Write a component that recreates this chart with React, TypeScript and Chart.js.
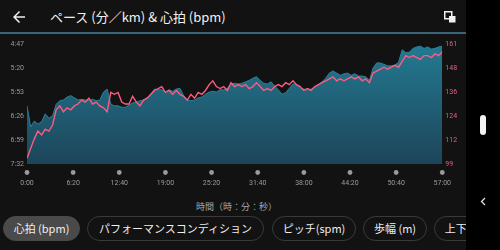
import React, { useEffect, useRef } from 'react';
import { Chart, registerables } from 'chart.js';

Chart.register(...registerables);

const SAMPLE_SEC = 30;

const paceSec = [
  372, 401, 393, 397, 394, 383, 389, 386, 370, 365,
  364, 360, 358, 361, 364, 363, 364, 365, 363, 365,
  364, 353, 349, 370, 372, 372, 374, 374, 371, 368,
  367, 365, 364, 361, 356, 349, 350, 350, 353, 350,
  352, 349, 348, 358, 364, 365, 364, 361, 360, 356,
  353, 352, 353, 350, 350, 348, 342, 341, 342, 341,
  339, 337, 334, 332, 337, 341, 342, 339, 345, 350,
  356, 354, 348, 342, 343, 348, 349, 350, 349, 346,
  343, 339, 334, 327, 324, 327, 330, 328, 327, 330,
  328, 331, 331, 332, 337, 320, 313, 313, 315, 317,
  317, 316, 312, 295, 299, 298, 293, 291, 290, 293,
  291, 294, 293, 291, 290,
];

const heartRate = [
  102, 107, 112, 116, 114, 117, 116, 119, 127, 129,
  126, 128, 127, 129, 130, 132, 131, 133, 130, 131,
  129, 128, 126, 136, 135, 136, 131, 130, 130, 134,
  131, 129, 132, 133, 135, 137, 138, 139, 136, 137,
  135, 137, 135, 134, 132, 135, 133, 136, 135, 137,
  140, 142, 139, 138, 139, 137, 141, 139, 140, 139,
  140, 138, 139, 141, 139, 137, 138, 137, 139, 140,
  139, 141, 140, 142, 140, 139, 137, 138, 137, 139,
  140, 141, 142, 143, 144, 142, 143, 142, 143, 144,
  143, 144, 142, 143, 141, 146, 147, 148, 149, 148,
  149, 150, 149, 152, 155, 154, 155, 154, 153, 155,
  155, 154, 156, 155, 157,
];

const xTickValues = [0, 380, 760, 1140, 1520, 1900, 2280, 2660, 3040, 3420];
const xTickLabels = ['0:00', '6:20', '12:40', '19:00', '25:20', '31:40', '38:00', '44:20', '50:40', '57:00'];
const paceTickValues = [287, 320, 353, 386, 419, 452];
const paceTickLabels = ['4:47', '5:20', '5:53', '6:26', '6:59', '7:32'];
const hrTickValues = [99, 111.4, 123.8, 136.2, 148.6, 161];
const hrTickLabels = ['99', '112', '124', '136', '148', '161'];

const titleText = 'ペース (分／km) & 心拍 (bpm)';
const xAxisTitle = '時間（時：分：秒）';
const chipLabels = ['心拍 (bpm)', 'パフォーマンスコンディション', 'ピッチ(spm)', '歩幅 (m)', '上下動 (cm)'];

const FONT = '"Noto Sans CJK JP", "Noto Sans", Roboto, sans-serif';
const chipBoxes = [
  { left: 3, width: 77 },
  { left: 87, width: 177 },
  { left: 272, width: 84 },
  { left: 363, width: 64 },
  { left: 434, width: 80 },
];

const tickDots = {
  id: 'tickDots',
  afterDraw(chart: any) {
    const { ctx, chartArea, scales } = chart;
    ctx.save();
    ctx.fillStyle = '#9a9a9a';
    xTickValues.forEach((v) => {
      const x = scales.x.getPixelForValue(v);
      ctx.beginPath();
      ctx.arc(x, chartArea.bottom + 8.5, 2.4, 0, Math.PI * 2);
      ctx.fill();
    });
    ctx.restore();
  },
};

function ChartCanvas() {
  const ref = useRef<HTMLCanvasElement | null>(null);
  useEffect(() => {
    if (!ref.current) return;
    const paceData = paceSec.map((v, i) => ({ x: i * SAMPLE_SEC, y: v }));
    const hrData = heartRate.map((v, i) => ({ x: i * SAMPLE_SEC, y: v }));
    const chart = new Chart(ref.current, {
      type: 'line',
      data: {
        datasets: [
          {
            label: 'HR',
            data: hrData,
            yAxisID: 'hr',
            borderColor: '#ff5a80',
            borderWidth: 1.4,
            pointRadius: 0,
            fill: false,
            order: 0,
            tension: 0,
          },
          {
            label: 'Pace',
            data: paceData,
            yAxisID: 'pace',
            borderColor: '#2a8099',
            borderWidth: 1,
            pointRadius: 0,
            fill: 'start',
            order: 1,
            tension: 0,
            backgroundColor: (c: any) => {
              const { chart: ch } = c;
              const area = ch.chartArea;
              if (!area) return '#1f5f75';
              const g = ch.ctx.createLinearGradient(0, area.top, 0, area.bottom);
              g.addColorStop(0, '#237a92');
              g.addColorStop(1, '#1d455a');
              return g;
            },
          },
        ],
      },
      options: {
        animation: false,
        responsive: false,
        maintainAspectRatio: false,
        devicePixelRatio: 1,
        layout: { padding: { top: 10, left: 0, right: 0, bottom: 0 } },
        plugins: { legend: { display: false }, tooltip: { enabled: false } },
        scales: {
          x: {
            type: 'linear',
            min: 0,
            max: 3420,
            grid: { display: false, drawTicks: false },
            border: { display: false },
            afterBuildTicks: (s: any) => {
              s.ticks = xTickValues.map((v) => ({ value: v }));
            },
            afterFit: (s: any) => {
              s.height = 30;
            },
            ticks: {
              color: '#9a9a9a',
              font: { family: 'Roboto, sans-serif', size: 7 },
              padding: 15,
              maxRotation: 0,
              autoSkip: false,
              callback: (v: any) => xTickLabels[xTickValues.indexOf(Number(v))] ?? '',
            },
          },
          pace: {
            type: 'linear',
            position: 'left',
            reverse: true,
            min: 287,
            max: 452,
            grid: { display: false, drawTicks: false },
            border: { display: false },
            afterBuildTicks: (s: any) => {
              s.ticks = paceTickValues.map((v) => ({ value: v }));
            },
            afterFit: (s: any) => {
              s.width = 27;
            },
            ticks: {
              color: '#9a9a9a',
              font: { family: 'Roboto, sans-serif', size: 7 },
              padding: 3,
              autoSkip: false,
              callback: (v: any) => paceTickLabels[paceTickValues.indexOf(Number(v))] ?? '',
            },
          },
          hr: {
            type: 'linear',
            position: 'right',
            min: 99,
            max: 161,
            grid: { display: false, drawTicks: false },
            border: { display: false },
            afterBuildTicks: (s: any) => {
              s.ticks = hrTickValues.map((v) => ({ value: v }));
            },
            afterFit: (s: any) => {
              s.width = 18;
            },
            ticks: {
              color: '#e0607f',
              font: { family: 'Roboto, sans-serif', size: 7 },
              padding: 3,
              autoSkip: false,
              callback: (v: any) => hrTickLabels[hrTickValues.indexOf(Number(v))] ?? '',
            },
          },
        },
      },
      plugins: [tickDots],
    } as any);
    return () => chart.destroy();
  }, []);
  return <canvas ref={ref} width={466} height={160} style={{ width: 466, height: 160, display: 'block' }} />;
}

export default function App() {
  return (
    <div
      style={{
        position: 'fixed',
        left: 0,
        top: 0,
        width: 500,
        height: 250,
        background: '#121212',
        overflow: 'hidden',
        fontFamily: FONT,
      }}
    >
      <svg style={{ position: 'absolute', left: 13, top: 11 }} width={12} height={12} viewBox="4 4 16 16">
        <path d="M20 11H7.83l5.59-5.59L12 4l-8 8 8 8 1.41-1.41L7.83 13H20v-2z" fill="#f0f0f0" />
      </svg>
      <div
        style={{
          position: 'absolute',
          left: 50,
          top: 8,
          color: '#f0f0f0',
          fontSize: 13,
          lineHeight: '18px',
          whiteSpace: 'nowrap',
        }}
      >
        {titleText}
      </div>
      <svg style={{ position: 'absolute', left: 444, top: 11 }} width={12} height={12} viewBox="0 0 12 12">
        <rect x={0.75} y={0.75} width={7} height={7} fill="none" stroke="#f0f0f0" strokeWidth={1.5} />
        <rect x={5} y={5} width={6.5} height={6.5} fill="#f0f0f0" />
      </svg>
      <div style={{ position: 'absolute', left: 0, top: 32, width: 466, height: 2, background: '#3a6479' }} />
      <div style={{ position: 'absolute', left: 0, top: 34, width: 466, height: 160 }}>
        <ChartCanvas />
      </div>
      <div
        style={{
          position: 'absolute',
          left: 196,
          top: 200,
          color: '#a8a8a8',
          fontSize: 9,
          lineHeight: '14px',
          whiteSpace: 'nowrap',
        }}
      >
        {xAxisTitle}
      </div>
      {chipLabels.map((t, i) => (
        <div
          key={t}
          style={{
            position: 'absolute',
            left: chipBoxes[i].left,
            top: 216,
            width: chipBoxes[i].width,
            height: 25,
            boxSizing: 'border-box',
            borderRadius: 13,
            border: i === 0 ? '1px solid #4a4a4a' : '1px solid #3a3a3a',
            background: i === 0 ? '#4a4a4a' : 'transparent',
            color: '#eeeeee',
            fontSize: 11,
            lineHeight: '23px',
            textAlign: 'center',
            whiteSpace: 'nowrap',
          }}
        >
          {t}
        </div>
      ))}
      <div style={{ position: 'absolute', left: 466, top: 0, width: 34, height: 250, background: '#000' }} />
      <div
        style={{
          position: 'absolute',
          left: 480,
          top: 115,
          width: 6,
          height: 20,
          borderRadius: 3,
          background: '#f2f2f2',
        }}
      />
      <svg style={{ position: 'absolute', left: 480, top: 197 }} width={6} height={9} viewBox="0 0 6 9">
        <path d="M5 1 L1.5 4.5 L5 8" fill="none" stroke="#e0e0e0" strokeWidth={1.3} />
      </svg>
    </div>
  );
}
